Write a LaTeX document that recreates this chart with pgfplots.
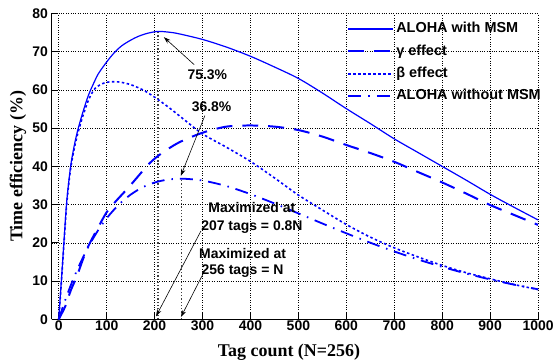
\documentclass[border=0pt]{standalone}
\usepackage{fontspec}
\setmainfont{Liberation Sans}
\newfontfamily\timesfont{Liberation Serif}
\usepackage{pgfplots}
\pgfplotsset{compat=1.18}
\usetikzlibrary{arrows.meta}
\definecolor{cblue}{RGB}{0,0,255}
\begin{document}
\begin{tikzpicture}
\begin{axis}[
  scale only axis, width=488.3pt, height=307pt,
  xmin=-15, xmax=1000, ymin=0, ymax=80,
  axis x line*=bottom, axis y line*=left,
  tick align=inside, major tick length=7pt,
  xtick={0,100,...,1000}, ytick={0,10,...,80},
  grid=major, grid style={dotted, black, line width=0.6pt},
  tick style={black, line width=0.8pt},
  axis line style={black, line width=0.8pt},
  ticklabel style={font=\fontsize{14}{14}\selectfont\bfseries},
  xticklabel style={yshift=2pt},
  /pgf/number format/assume math mode=true,
  /pgf/number format/set thousands separator={},
  xlabel={Tag count (N=256)},
  ylabel={Time efficiency (\%)},
  xlabel style={font=\timesfont\fontsize{18}{18}\selectfont\bfseries, at={(axis description cs:0.488,-0.1075)}, anchor=center},
  ylabel style={font=\timesfont\fontsize{18}{18}\selectfont\bfseries, at={(axis description cs:-0.069,0.5)}, anchor=center},
  legend cell align=left,
  legend image code/.code={\draw[#1] (0pt,0pt) -- (45pt,0pt);},
  legend style={at={(1.01,0.98)}, anchor=north east, draw=none, fill=none,
    font=\fontsize{14.5}{14.5}\selectfont\bfseries, row sep=4pt, inner sep=0pt,
    nodes={inner sep=2pt, text height=11pt, text depth=3.5pt, font=\fontsize{14.5}{14.5}\selectfont\bfseries}},
]
% reference lines at the maxima
\addplot[black!75, line width=1.3pt, dotted, forget plot] coordinates {(207,0) (207,75.3)};
\addplot[black!75, line width=1.3pt, dotted, forget plot] coordinates {(256,0) (256,36.8)};

% ALOHA with MSM
\addplot[cblue, line width=1.2pt, smooth] coordinates {
(0,0) (5,9) (10,18.5) (16,29.7) (21,36) (26,41) (33,45.8) (40,49.6) (50,54) (62,58.6)
(75,62.3) (83,64.3) (100,67.3) (115,69.6) (131,71.5) (150,73) (166,74) (185,74.8)
(207,75.3) (230,75.1) (250,74.7) (300,73.2) (350,71.2) (400,68.8) (450,66.0) (500,63.0)
(550,59.2) (600,55.1) (650,51.2) (700,47.2) (750,43.6) (800,40.0) (850,36.4) (900,32.7)
(950,29.3) (1000,26.0)};
\addlegendentry{ALOHA with MSM}

% gamma effect
\addplot[cblue, line width=2pt, dash pattern=on 16pt off 10pt, smooth] coordinates {
(0,0) (14,3.5) (25,7.5) (38,11.3) (50,15.5) (62,19.2) (80,23.5) (100,28) (120,31)
(145,34.4) (169,37.9) (187,40.5) (210,43) (250,46.2) (300,48.8) (350,50.4) (400,50.7)
(450,50.4) (500,49.5) (550,47.8) (600,45.6) (650,43.5) (700,41.2) (750,38.5) (800,35.8)
(850,32.9) (900,29.9) (950,27.3) (1000,24.7)};
\addlegendentry{ γ effect}

% beta effect
\addplot[cblue, line width=1.6pt, dash pattern=on 2.5pt off 2.5pt, smooth] coordinates {
(0,0) (5,8.7) (10,18) (16,29) (21,35.5) (26,40.3) (33,45) (40,48.7) (50,53) (62,57.3)
(76,60.4) (97,61.9) (124,62.1) (152,61.3) (180,59.7) (207,57.5) (235,54.9) (263,52.1)
(300,48.5) (350,45) (400,41.3) (450,37) (500,32.5) (550,28.6) (600,24.8) (650,21.5)
(700,18.7) (750,16.3) (800,14.1) (850,12.2) (900,10.6) (950,9.1) (1000,7.8)};
\addlegendentry{β effect}

% ALOHA without MSM
\addplot[cblue, line width=1.8pt, dash pattern=on 13pt off 7pt on 1.5pt off 7pt, smooth] coordinates {
(0,0) (10,3.76) (20,7.22) (30,10.42) (40,13.36) (60,18.53) (80,22.86) (100,26.43)
(125,29.96) (150,32.61) (175,34.52) (200,35.77) (225,36.49) (256,36.79) (300,36.30)
(350,34.85) (400,32.75) (450,30.31) (500,27.70) (550,25.07) (600,22.50) (650,20.04)
(700,17.75) (750,15.64) (800,13.72) (850,11.99) (900,10.44) (950,9.07) (1000,7.86)};
\addlegendentry{ALOHA without MSM}

% annotations
\draw[-{Stealth[length=7pt,width=4.5pt]}, line width=0.6pt] (axis cs:282.7,66.6) -- (axis cs:219.3,73.8);
\node[font=\fontsize{14}{14}\selectfont\bfseries] at (axis cs:310,64) {75.3\%};
\draw[-{Stealth[length=7pt,width=4.5pt]}, line width=0.6pt] (axis cs:305,53.3) -- (axis cs:254.6,37.5);
\node[font=\fontsize{14}{14}\selectfont\bfseries] at (axis cs:319,55.7) {36.8\%};
\node[font=\fontsize{14}{17.5}\selectfont\bfseries, align=center] at (axis cs:403,26.5) {Maximized at\\207 tags = 0.8N};
\draw[-{Stealth[length=7pt,width=4.5pt]}, line width=0.6pt] (axis cs:296.7,23.1) -- (axis cs:203,0.8);
\node[font=\fontsize{14}{16.5}\selectfont\bfseries, align=center] at (axis cs:383.6,14.7) {Maximized at\\256 tags = N};
\draw[-{Stealth[length=7pt,width=4.5pt]}, line width=0.6pt] (axis cs:302,12.1) -- (axis cs:255,0.6);
\end{axis}
\pgfresetboundingbox
\path[use as bounding box] ([xshift=-51.7pt,yshift=-43.5pt]current axis.south west) rectangle ([xshift=16pt,yshift=13.5pt]current axis.north east);
\end{tikzpicture}
\end{document}
